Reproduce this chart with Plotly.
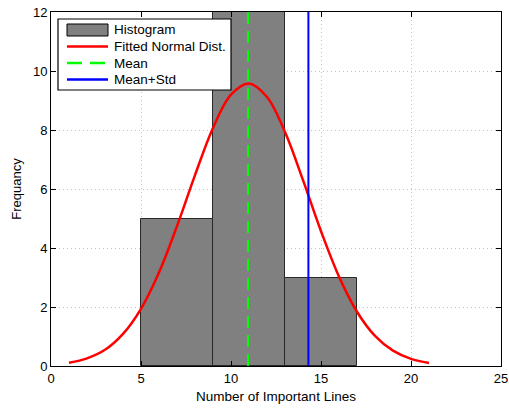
import plotly.graph_objects as go

# Histogram bins (edges) and counts
bin_left = [5, 9, 13]
bin_right = [9, 13, 17]
counts = [5, 12, 3]

# Fitted normal distribution curve
curve_x = [1, 2, 3, 4, 5, 6, 7, 8, 9, 10, 11, 12, 13, 14, 15, 16, 17, 18, 19, 20, 21]
curve_y = [0.11, 0.26, 0.55, 1.09, 1.94, 3.17, 4.74, 6.47, 8.07, 9.20, 9.58, 9.12, 7.93,
           6.30, 4.57, 3.03, 1.84, 1.02, 0.52, 0.24, 0.10]

mean_val = 10.95
mean_plus_std = 14.3

x_ticks = [0, 5, 10, 15, 20, 25]
y_ticks = [0, 2, 4, 6, 8, 10, 12]

legend_labels = ["Histogram", "Fitted Normal Dist.", "Mean", "Mean+Std"]

centers = [(a + b) / 2 for a, b in zip(bin_left, bin_right)]
widths = [b - a for a, b in zip(bin_left, bin_right)]

fig = go.Figure()
fig.add_trace(go.Bar(x=centers, y=counts, width=widths, name="Histogram",
                     marker=dict(color="rgb(128,128,128)",
                                 line=dict(color="rgb(40,40,40)", width=1))))
fig.add_trace(go.Scatter(x=curve_x, y=curve_y, mode="lines", name="Fitted Normal Dist.",
                         line=dict(color="rgb(255,0,0)", width=2.5, shape="spline")))
fig.add_trace(go.Scatter(x=[mean_val, mean_val], y=[0, 12], mode="lines", name="Mean",
                         line=dict(color="rgb(0,255,0)", width=2, dash="12px,7px")))
fig.add_trace(go.Scatter(x=[mean_plus_std, mean_plus_std], y=[0, 12], mode="lines",
                         name="Mean+Std", line=dict(color="rgb(0,0,255)", width=2)))

axis_common = dict(showline=True, linecolor="black", linewidth=1, mirror="ticks",
                   ticks="inside", ticklen=5, tickcolor="black", automargin=False,
                   showgrid=True, gridcolor="rgb(195,195,195)", griddash="1px,3px", gridwidth=1,
                   zeroline=False, tickfont=dict(size=13, color="black"))

fig.update_xaxes(range=[0, 25], tickvals=x_ticks, title=dict(text="Number of Important Lines",
                 font=dict(size=13.5, color="black"), standoff=6), **axis_common)
fig.update_yaxes(range=[0, 12], tickvals=y_ticks, title=dict(text="Frequancy",
                 font=dict(size=13, color="black"), standoff=8), **axis_common)

# Manual MATLAB-style legend (paper coordinates of the plot area)
W, H = 450.0, 354.0  # plot area size in px
def px(xp):
    return xp / W
def py(yp):
    return 1 - yp / H

shapes = [dict(type="rect", xref="paper", yref="paper", x0=px(7), x1=px(180),
               y0=py(78), y1=py(7), line=dict(color="black", width=1.2), fillcolor="white",
               layer="above")]
rows = [18, 34.5, 51, 67.5]
# histogram patch
shapes.append(dict(type="rect", xref="paper", yref="paper", x0=px(16), x1=px(57),
                   y0=py(rows[0] + 6), y1=py(rows[0] - 6),
                   line=dict(color="black", width=1), fillcolor="rgb(128,128,128)",
                   layer="above"))
line_styles = [dict(color="rgb(255,0,0)", width=2.5),
               dict(color="rgb(0,255,0)", width=2.5, dash="15px,8px"),
               dict(color="rgb(0,0,255)", width=2.5)]
for r, ls in zip(rows[1:], line_styles):
    shapes.append(dict(type="line", xref="paper", yref="paper", x0=px(16), x1=px(57),
                       y0=py(r), y1=py(r), line=ls, layer="above"))
annotations = [dict(text=lab, xref="paper", yref="paper", x=px(61), y=py(r),
                    xanchor="left", yanchor="middle", showarrow=False,
                    font=dict(size=13.5, color="black"))
               for lab, r in zip(legend_labels, rows)]

fig.update_layout(
    width=509, height=409,
    margin=dict(l=51, r=8, t=12, b=43),
    paper_bgcolor="white", plot_bgcolor="white",
    font=dict(family="Liberation Sans, Arial, sans-serif", color="black"),
    bargap=0,
    showlegend=False,
    shapes=shapes,
    annotations=annotations,
)

fig.write_html("out.html")
